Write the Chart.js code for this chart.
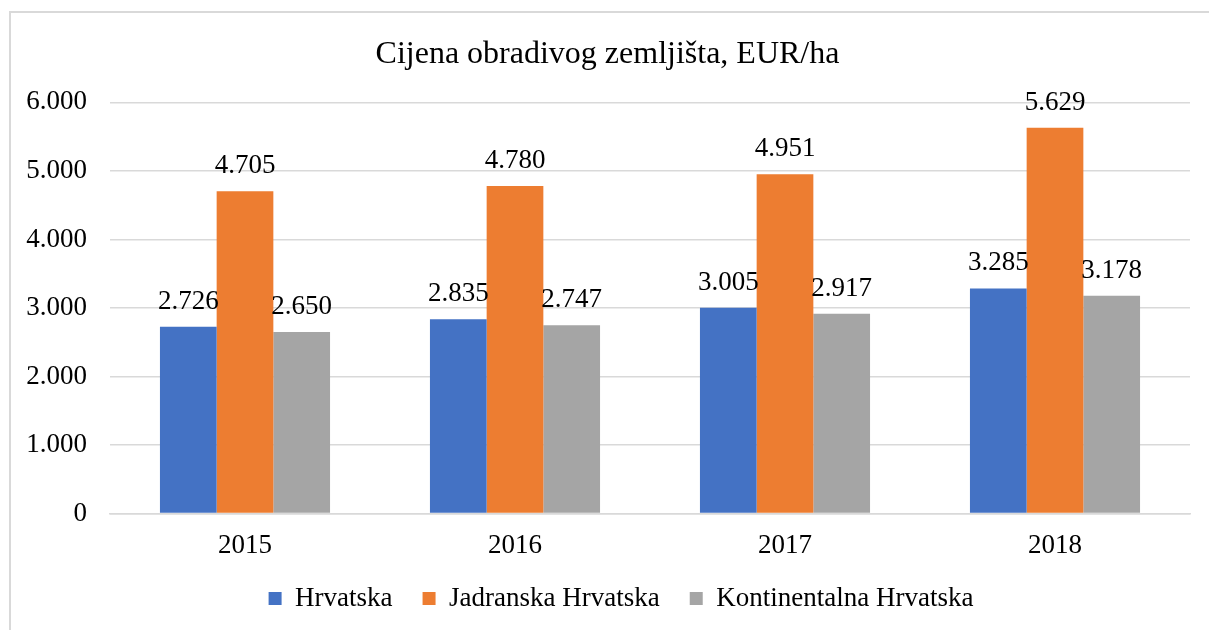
<!DOCTYPE html>
<html>
<head>
<meta charset="utf-8">
<script src="https://cdn.jsdelivr.net/npm/chart.js@4"></script>
<style>
  body { margin: 0; background: #fff; }
  #wrap { position: relative; width: 1209px; height: 630px; overflow: hidden; }
  #frame { position: absolute; left: 9px; top: 11px; width: 1230px; height: 650px; border: 2px solid #d9d9d9; }
  canvas { position: absolute; left: 0; top: 0; }
</style>
</head>
<body>
<div id="wrap">
  <div id="frame"></div>
  <canvas id="chart" width="1209" height="630"></canvas>
</div>
<script>
// godine i cijene (EUR/ha)
const years = ['2015', '2016', '2017', '2018'];
const hrvatska = [2726, 2835, 3005, 3285];
const jadranska = [4705, 4780, 4951, 5629];
const kontinentalna = [2650, 2747, 2917, 3178];
const yTicks = [0, 1000, 2000, 3000, 4000, 5000, 6000];

const serif = '"Liberation Serif", "Times New Roman", serif';

// 4705 -> "4.705"
function fmt(n) {
    return String(n).replace(/\B(?=(\d{3})+(?!\d))/g, '.');
}

// oznake vrijednosti iznad stupaca
const valueLabels = {
    id: 'valueLabels',
    afterDatasetsDraw(chart) {
        const ctx = chart.ctx;
        ctx.save();
        ctx.font = '27px ' + serif;
        ctx.fillStyle = '#000';
        ctx.textAlign = 'center';
        ctx.textBaseline = 'alphabetic';
        chart.data.datasets.forEach((ds, i) => {
            chart.getDatasetMeta(i).data.forEach((bar, j) => {
                ctx.fillText(fmt(ds.data[j]), bar.x, bar.y - 18);
            });
        });
        ctx.restore();
    }
};

// legenda malo udesno, kao u originalu
const legendShift = {
    id: 'legendShift',
    afterLayout(chart) {
        chart.legend.left += 27;
    }
};

const ctx = document.getElementById('chart').getContext('2d');
new Chart(ctx, {
    type: 'bar',
    data: {
        labels: years,
        datasets: [
            { label: 'Hrvatska', data: hrvatska, backgroundColor: '#4472C4' },
            { label: 'Jadranska Hrvatska', data: jadranska, backgroundColor: '#ED7D31' },
            { label: 'Kontinentalna Hrvatska', data: kontinentalna, backgroundColor: '#A5A5A5' }
        ]
    },
    options: {
        responsive: false,
        animation: false,
        categoryPercentage: 0.63,
        barPercentage: 1.0,
        layout: { padding: { left: 25, right: 19, top: 0, bottom: 8 } },
        scales: {
            y: {
                min: 0,
                max: 6000,
                afterBuildTicks(scale) {
                    scale.ticks = yTicks.map(v => ({ value: v }));
                },
                afterFit(scale) { scale.width = 85; },
                border: { display: false },
                grid: { color: '#d9d9d9', lineWidth: 1.5, drawTicks: false },
                ticks: {
                    padding: 23,
                    color: '#000',
                    font: { family: serif, size: 27 },
                    callback: v => fmt(v)
                }
            },
            x: {
                afterFit(scale) { scale.height = scale.height - 23; },
                border: { color: '#d9d9d9', width: 1.5 },
                grid: { display: false, drawTicks: false },
                ticks: {
                    padding: 16,
                    color: '#000',
                    font: { family: serif, size: 27 }
                }
            }
        },
        plugins: {
            title: {
                display: true,
                text: 'Cijena obradivog zemljišta, EUR/ha',
                color: '#000',
                font: { family: serif, size: 32, weight: 'normal' },
                padding: { top: 35, bottom: 29 }
            },
            legend: {
                position: 'bottom',
                labels: {
                    color: '#000',
                    font: { family: serif, size: 27 },
                    boxWidth: 13,
                    boxHeight: 13,
                    padding: 30
                }
            },
            tooltip: { enabled: false }
        }
    },
    plugins: [valueLabels, legendShift]
});
</script>
</body>
</html>
